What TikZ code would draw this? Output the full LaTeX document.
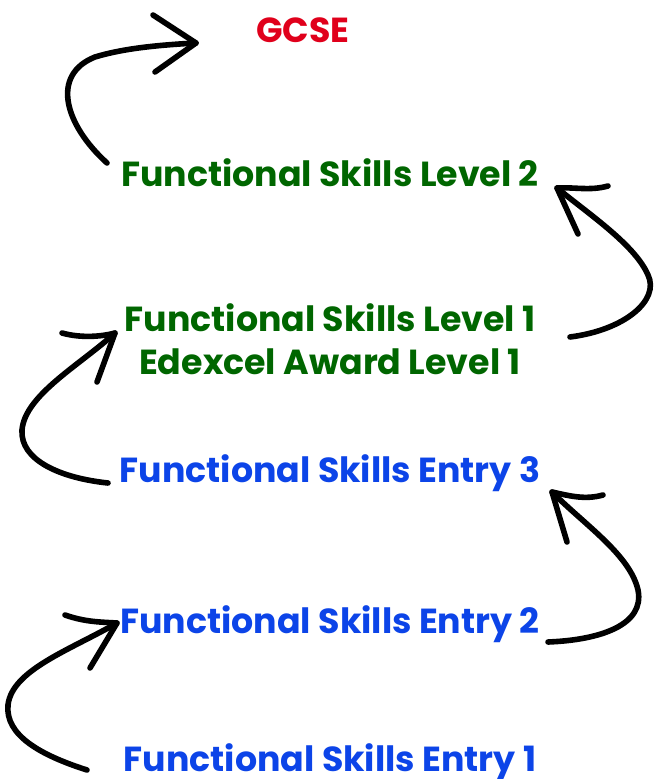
\documentclass[tikz,border=0pt]{standalone}
\usepackage{fontspec}
\setmainfont{Poppins}
\usepackage{tikz}

\definecolor{gcsered}{RGB}{224,0,27}
\definecolor{levelgreen}{RGB}{0,102,0}
\definecolor{entryblue}{RGB}{12,68,232}

\tikzset{LabelStyle/.style = {font=\bfseries\fontsize{17.4}{20}\selectfont,anchor=base,inner sep=0pt},
         HandStyle/.style  = {draw=black,line width=2.8pt,line cap=round,line join=round}}

\begin{document}
\begin{tikzpicture}[x=0.5pt,y=-0.5pt]
		\useasboundingbox (0,0) rectangle (655,779);
		% qualifications
		\node[LabelStyle,text=gcsered]    (GCSE) at (303,43)  {GCSE};
		\node[LabelStyle,text=levelgreen] (L2)   at (330,187) {Functional Skills Level 2};
		\node[LabelStyle,text=levelgreen] (L1)   at (330,332) {Functional Skills Level 1};
		\node[LabelStyle,text=levelgreen] (EA)   at (330,375) {Edexcel Award Level 1};
		\node[LabelStyle,text=entryblue]  (E3)   at (330,482) {Functional Skills Entry 3};
		\node[LabelStyle,text=entryblue]  (E2)   at (330,633) {Functional Skills Entry 2};
		\node[LabelStyle,text=entryblue]  (E1)   at (330,771) {Functional Skills Entry 1};
		% ends of the hand drawn arrows
		\coordinate (L2s) at (107,163);  \coordinate (GCSEt) at (196,43);
		\coordinate (L1s) at (570,337);  \coordinate (L2t)   at (557,188);
		\coordinate (E3s) at (108,483);  \coordinate (L1t)   at (115,333);
		\coordinate (E2s) at (548,642);  \coordinate (E3t)   at (552,492);
		\coordinate (E1s) at (87,770);   \coordinate (E2t)   at (117,623);
		% Level 2 -> GCSE
		\draw[HandStyle] (L2s) .. controls (65,125) and (50,75) .. (95,57) .. controls (125,48) and (160,45) .. (GCSEt);
		\draw[HandStyle] (153,15) -- (GCSEt) -- (155,72);
		% Level 1 -> Level 2
		\draw[HandStyle] (L1s) .. controls (625,330) and (660,300) .. (648,275) .. controls (635,245) and (590,215) .. (L2t);
		\draw[HandStyle] (608,186) .. controls (590,191) and (575,187) .. (L2t) -- (578,234);
		% Entry 3 -> Level 1
		\draw[HandStyle] (E3s) .. controls (60,478) and (20,460) .. (22,430) .. controls (25,395) and (80,365) .. (L1t);
		\draw[HandStyle] (62,333) .. controls (80,338) and (100,337) .. (L1t) -- (97,382);
		% Entry 2 -> Entry 3
		\draw[HandStyle] (E2s) .. controls (600,640) and (645,625) .. (638,590) .. controls (630,555) and (585,525) .. (E3t);
		\draw[HandStyle] (603,495) .. controls (585,500) and (570,496) .. (E3t) -- (567,542);
		% Entry 1 -> Entry 2
		\draw[HandStyle] (E1s) .. controls (40,755) and (5,735) .. (8,705) .. controls (12,670) and (70,650) .. (E2t);
		\draw[HandStyle] (65,615) .. controls (85,622) and (100,622) .. (E2t) -- (90,668);
	\end{tikzpicture}
\end{document}
